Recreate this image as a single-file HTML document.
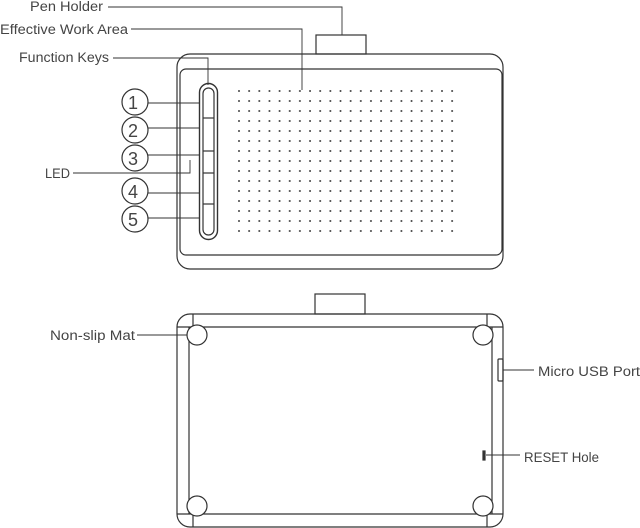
<!DOCTYPE html>
<html><head><meta charset="utf-8"><style>
html,body{margin:0;padding:0;background:#fff;}
svg{display:block;}
text{font-family:"Liberation Sans",sans-serif;fill:#444;font-size:13.5px;}
</style></head><body>
<svg width="640" height="528" viewBox="0 0 640 528" xmlns="http://www.w3.org/2000/svg">
<defs>
<pattern id="dp" x="239" y="91" width="10.15" height="10" patternUnits="userSpaceOnUse">
<circle cx="1" cy="1" r="1" fill="#444"/>
</pattern>
</defs>
<rect x="239" y="91" width="216" height="143" fill="url(#dp)" transform="translate(-1,-1)"/>
<g fill="none" stroke="#333" stroke-width="1.2">
<rect x="316" y="35" width="50" height="19"/>
<rect x="177" y="54" width="326" height="215" rx="13"/>
<rect x="180" y="69" width="322" height="186" rx="6"/>
<rect x="199.5" y="83.5" width="18" height="156" rx="9" stroke-width="1.4"/>
<rect x="203" y="88" width="11" height="147" rx="5.5"/>
<line x1="203" y1="118" x2="214" y2="118"/>
<line x1="203" y1="151" x2="214" y2="151"/>
<line x1="203" y1="173" x2="214" y2="173"/>
<line x1="203" y1="204" x2="214" y2="204"/>
<polyline points="108,7 342,7 342,35" stroke-width="0.9"/>
<polyline points="131,29 302,29 302,90" stroke-width="0.9"/>
<polyline points="113,58 208,58 208,85" stroke-width="0.9"/>
<polyline points="73,173 190,173 190,160" stroke-width="0.9"/>
<line x1="148" y1="103" x2="200" y2="103" stroke-width="0.9"/>
<line x1="148" y1="128" x2="200" y2="128" stroke-width="0.9"/>
<line x1="148" y1="155" x2="200" y2="155" stroke-width="0.9"/>
<line x1="148" y1="193" x2="200" y2="193" stroke-width="0.9"/>
<line x1="148" y1="218" x2="200" y2="218" stroke-width="0.9"/>
<circle cx="135" cy="102" r="13"/>
<circle cx="135" cy="130" r="13"/>
<circle cx="135" cy="158" r="13"/>
<circle cx="135" cy="191" r="13"/>
<circle cx="135" cy="219" r="13"/>
<rect x="315" y="294" width="50" height="20"/>
<rect x="177" y="314" width="326" height="213" rx="13"/>
<line x1="189" y1="327" x2="189" y2="514"/>
<line x1="492" y1="327" x2="492" y2="514"/>
<line x1="177" y1="327" x2="503" y2="327"/>
<line x1="177" y1="514" x2="503" y2="514"/>
<line x1="193" y1="314" x2="193" y2="327"/>
<line x1="487" y1="314" x2="487" y2="327"/>
<line x1="193" y1="514" x2="193" y2="527"/>
<line x1="487" y1="514" x2="487" y2="527"/>
<circle cx="197" cy="335" r="10" fill="#fff"/>
<circle cx="483" cy="335" r="10" fill="#fff"/>
<circle cx="197" cy="506" r="10" fill="#fff"/>
<circle cx="483" cy="506" r="10" fill="#fff"/>
<rect x="498" y="359" width="5" height="22" rx="1"/>
<line x1="137" y1="335" x2="187" y2="335" stroke-width="0.9"/>
<line x1="503" y1="370" x2="534" y2="370" stroke-width="0.9"/>
<line x1="486" y1="455" x2="520" y2="455" stroke-width="0.9"/>
<rect x="483" y="451" width="2" height="9" fill="#333"/>
</g>
<text x="30" y="11" textLength="73" lengthAdjust="spacingAndGlyphs">Pen Holder</text>
<text x="0" y="34" textLength="128" lengthAdjust="spacingAndGlyphs">Effective Work Area</text>
<text x="19" y="62" textLength="90" lengthAdjust="spacingAndGlyphs">Function Keys</text>
<text x="45" y="178" textLength="25" lengthAdjust="spacingAndGlyphs">LED</text>
<text x="128" y="109" style="font-size:18px">1</text><text x="128" y="137" style="font-size:18px">2</text><text x="128" y="165" style="font-size:18px">3</text><text x="128" y="198" style="font-size:18px">4</text><text x="128" y="226" style="font-size:18px">5</text>
<text x="50" y="340" textLength="85" lengthAdjust="spacingAndGlyphs">Non-slip Mat</text>
<text x="538" y="376" textLength="102" lengthAdjust="spacingAndGlyphs">Micro USB  Port</text>
<text x="524" y="462" textLength="75" lengthAdjust="spacingAndGlyphs">RESET Hole</text>
</svg>
</body></html>
